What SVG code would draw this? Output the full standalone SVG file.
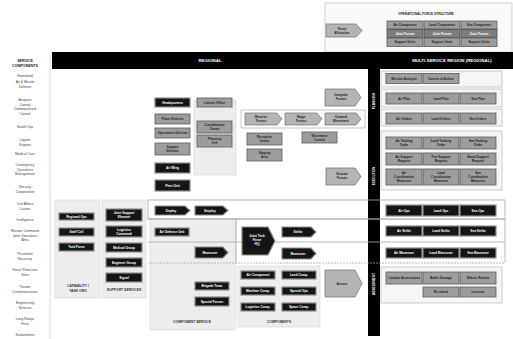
<svg xmlns="http://www.w3.org/2000/svg" width="513" height="339" viewBox="0 0 513 339">
<style>
text{font-family:"Liberation Sans",Arial,sans-serif;text-anchor:middle}
.blk{fill:#151515;stroke:#8e8e8e;stroke-width:1.2}
.gry{fill:#9d9d9d;stroke:#5a5a5a;stroke-width:0.8}
.gdk{fill:#7e7e7e;stroke:#4a4a4a;stroke-width:0.8}
.arw{fill:#b4b4b4;stroke:#7a7a7a;stroke-width:0.8}
.panel{fill:#ededed;stroke:#d6d6d6;stroke-width:0.6}
.outl{fill:#f6f6f6;stroke:#b8b8b8;stroke-width:0.7}
.band{fill:none;stroke:#a8a8a8;stroke-width:0.8}
.tw{fill:#fff;font-size:3.2px;font-weight:bold}
.td{fill:#1e1e1e;font-size:3.2px;font-weight:bold}
.tl{fill:#444;font-size:3.4px}
.tlb{fill:#222;font-size:3.6px;font-weight:bold}
.th{fill:#fff;font-size:4.4px;font-weight:bold}
.cap{fill:#333;font-size:3.4px;font-weight:bold}
</style>

<!-- background -->
<rect x="0" y="0" width="513" height="339" fill="#fff"/>

<!-- left label column -->
<g id="left-labels">
<line x1="50" y1="55" x2="50" y2="339" stroke="#d0d0d0" stroke-width="0.8"/>
<text class="tlb" x="25" y="62">SERVICE</text><text class="tlb" x="25" y="66.5">COMPONENTS</text>
<text class="tl" x="25" y="77">Homeland</text>
<text class="tl" x="25" y="83">Air &amp; Missile</text><text class="tl" x="25" y="87.5">Defense</text>
<text class="tl" x="25" y="101">Airspace</text><text class="tl" x="25" y="105.5">Control</text><text class="tl" x="25" y="110">Command and</text><text class="tl" x="25" y="114.5">Control</text>
<text class="tl" x="25" y="128">Sealift Ops</text>
<text class="tl" x="25" y="141">Logistic</text><text class="tl" x="25" y="145.5">Support</text>
<text class="tl" x="25" y="155">Medical Care</text>
<text class="tl" x="25" y="166">Contingency</text><text class="tl" x="25" y="170.5">Operations</text><text class="tl" x="25" y="175">Management</text>
<text class="tl" x="25" y="188">Security</text><text class="tl" x="25" y="192.5">Cooperation</text>
<text class="tl" x="25" y="205">Civil Affairs</text><text class="tl" x="25" y="209.5">Liaison</text>
<text class="tl" x="25" y="221">Intelligence</text>
<text class="tl" x="25" y="232">Mission Command</text><text class="tl" x="25" y="236.5">Joint Operations</text><text class="tl" x="25" y="241">Area</text>
<text class="tl" x="25" y="255">Personnel</text><text class="tl" x="25" y="259.5">Recovery</text>
<text class="tl" x="25" y="271">Force Protection</text><text class="tl" x="25" y="275.5">Sites</text>
<text class="tl" x="25" y="288">Theater</text><text class="tl" x="25" y="292.5">Communications</text>
<text class="tl" x="25" y="304">Engineering</text><text class="tl" x="25" y="308.5">Services</text>
<text class="tl" x="25" y="320">Long Range</text><text class="tl" x="25" y="324.5">Fires</text>
<text class="tl" x="25" y="336">Sustainment</text>
</g>

<!-- top-right structure box -->
<g id="top-structure">
<rect x="325" y="3" width="187" height="49" fill="#fafafa" stroke="#c8c8c8" stroke-width="0.8"/>
<text class="td" x="426" y="14.5" font-size="3.6px">OPERATIONAL FORCE STRUCTURE</text>
<polygon class="arw" points="326,24 356,24 362,30.5 356,37 326,37"/>
<text class="td" x="342" y="29.5">Force</text><text class="td" x="342" y="33.5">Allocation</text>
<rect class="gry" x="387" y="21" width="36" height="8"/><text class="td" x="405" y="26">Air Component</text>
<rect class="gry" x="424" y="21" width="36" height="8"/><text class="td" x="442" y="26">Land Component</text>
<rect class="gry" x="461" y="21" width="36" height="8"/><text class="td" x="479" y="26">Sea Component</text>
<rect class="gdk" x="387" y="29.5" width="36" height="8"/><text class="tw" x="405" y="34.5">Joint Forces</text>
<rect class="gdk" x="424" y="29.5" width="36" height="8"/><text class="tw" x="442" y="34.5">Joint Forces</text>
<rect class="gdk" x="461" y="29.5" width="36" height="8"/><text class="tw" x="479" y="34.5">Joint Forces</text>
<rect class="gry" x="387" y="38" width="36" height="8.5"/><text class="td" x="405" y="43">Support Units</text>
<rect class="gry" x="424" y="38" width="36" height="8.5"/><text class="td" x="442" y="43">Support Units</text>
<rect class="gry" x="461" y="38" width="36" height="8.5"/><text class="td" x="479" y="43">Support Units</text>
</g>

<!-- headers -->
<g id="header">
<rect x="52" y="52" width="461" height="17" fill="#000"/>
<text class="th" x="210" y="62">REGIONAL</text>
<text class="th" x="452" y="62">MULTI-SERVICE REGION (REGIONAL)</text>
</g>
<g id="divider">
<rect x="368" y="52" width="12" height="284" fill="#000"/>
<text class="tw" transform="translate(375.2,101) rotate(-90)">PLANNING</text>
<text class="tw" transform="translate(375.2,176) rotate(-90)">EXECUTION</text>
<text class="tw" transform="translate(375.2,284) rotate(-90)">ASSESSMENT</text>
</g>

<!-- background panels -->
<g id="panels">
<rect class="panel" x="55" y="200" width="45" height="98"/>
<rect class="panel" x="102" y="200" width="44" height="98"/>
<rect class="panel" x="150" y="219" width="86" height="111"/>
<rect class="panel" x="194" y="100" width="42" height="75"/>
<rect class="panel" x="238" y="266" width="82" height="61"/>
</g>

<!-- bands -->
<g id="connectors">
<rect class="band" x="148" y="200" width="357" height="19" fill="#fff"/>
<line class="band" x1="148" y1="219" x2="505" y2="219"/>
<line class="band" x1="148" y1="242" x2="505" y2="242"/>
<line class="band" x1="148" y1="263" x2="505" y2="263" stroke-dasharray="2,1"/>
<line class="band" x1="236" y1="219" x2="236" y2="263"/>
<line class="band" x1="505" y1="219" x2="505" y2="263"/>
</g>

<!-- left section -->
<g id="capability">
<rect class="blk" x="59" y="213" width="35" height="7"/><text class="tw" x="76.5" y="217.8">Regional Ops</text>
<rect class="blk" x="59" y="228" width="35" height="8"/><text class="tw" x="76.5" y="233.2">Staff Cell</text>
<rect class="blk" x="59" y="243" width="35" height="8"/><text class="tw" x="76.5" y="248.2">Task Force</text>
<text class="cap" x="78" y="287">CAPABILITY /</text><text class="cap" x="78" y="291.5">TASK ORG</text>
</g>
<g id="support-services">
<rect class="blk" x="106" y="209" width="36" height="12"/><text class="tw" x="124" y="214">Joint Support</text><text class="tw" x="124" y="218">Element</text>
<rect class="blk" x="106" y="226" width="36" height="11"/><text class="tw" x="124" y="230.5">Logistics</text><text class="tw" x="124" y="234.5">Command</text>
<rect class="blk" x="106" y="243" width="36" height="9"/><text class="tw" x="124" y="248.6">Medical Group</text>
<rect class="blk" x="106" y="258" width="36" height="9"/><text class="tw" x="124" y="263.6">Engineer Group</text>
<rect class="blk" x="106" y="273" width="36" height="9"/><text class="tw" x="124" y="278.6">Signal</text>
<text class="cap" x="124" y="291">SUPPORT SERVICES</text>
</g>

<!-- middle left -->
<g id="column-a">
<rect class="blk" x="155" y="98" width="35" height="9"/><text class="tw" x="172.5" y="103.6">Headquarters</text>
<rect class="gry" x="155" y="114" width="35" height="10"/><text class="td" x="172.5" y="120">Plans Division</text>
<rect class="gry" x="155" y="128" width="35" height="10"/><text class="td" x="172.5" y="134">Operations Division</text>
<rect class="gry" x="155" y="143" width="35" height="12"/><text class="td" x="172.5" y="148">Support</text><text class="td" x="172.5" y="152">Division</text>
<rect class="blk" x="155" y="163" width="35" height="10"/><text class="tw" x="172.5" y="169">Air Wing</text>
<rect class="blk" x="155" y="180" width="35" height="11"/><text class="tw" x="172.5" y="186.5">Fleet Unit</text>
</g>
<g id="column-b">
<rect class="gry" x="197" y="98" width="35" height="9"/><text class="td" x="214.5" y="103.6">Liaison Office</text>
<rect class="gry" x="197" y="121" width="35" height="12"/><text class="td" x="214.5" y="126">Coordination</text><text class="td" x="214.5" y="130">Center</text>
<rect class="gry" x="197" y="135" width="35" height="12"/><text class="td" x="214.5" y="140">Planning</text><text class="td" x="214.5" y="144">Cell</text>
</g>
<g id="band-arrows">
<polygon class="blk" points="155,206 185,206 190,210.5 185,215 155,215"/><text class="tw" x="171" y="211.7">Deploy</text>
<polygon class="blk" points="195,206 223,206 228,210.5 223,215 195,215"/><text class="tw" x="210" y="211.7">Employ</text>
</g>
<g id="component-service">
<rect class="blk" x="155" y="228" width="34" height="8"/><text class="tw" x="172" y="233.2">Air Defense Unit</text>
<polygon class="blk" points="195,247 223,247 228,252.5 223,258 195,258"/><text class="tw" x="210" y="253.7">Maneuver</text>
<rect class="blk" x="195" y="282" width="34" height="8"/><text class="tw" x="212" y="287.2">Brigade Team</text>
<rect class="blk" x="195" y="297" width="34" height="9"/><text class="tw" x="212" y="302.6">Special Forces</text>
<text class="cap" x="192" y="323">COMPONENT SERVICE</text>
</g>

<!-- middle right -->
<g id="mid-arrows">
<polygon class="arw" points="325,89 355,89 361,97.5 355,106 325,106"/><text class="td" x="341" y="96">Integrate</text><text class="td" x="341" y="100">Forces</text>
<rect x="241" y="110" width="124" height="18" fill="#fff" stroke="#aaa" stroke-width="0.7"/>
<polygon class="arw" points="245,113 277,113 282,119 277,125 245,125"/><text class="td" x="261" y="118">Receive</text><text class="td" x="261" y="122">Forces</text>
<polygon class="arw" points="285,113 317,113 322,119 317,125 285,125"/><text class="td" x="301" y="118">Stage</text><text class="td" x="301" y="122">Forces</text>
<polygon class="arw" points="325,113 356,113 361,119 356,125 325,125"/><text class="td" x="341" y="118">Onward</text><text class="td" x="341" y="122">Movement</text>
<rect class="gry" x="247" y="133" width="35" height="12"/><text class="td" x="264.5" y="138">Reception</text><text class="td" x="264.5" y="142">Center</text>
<rect class="gry" x="247" y="149" width="35" height="12"/><text class="td" x="264.5" y="154">Staging</text><text class="td" x="264.5" y="158">Area</text>
<rect class="gry" x="302" y="132" width="35" height="11"/><text class="td" x="319.5" y="136.6">Movement</text><text class="td" x="319.5" y="140.6">Control</text>
<polygon class="arw" points="326,168 355,168 361,176.5 355,185 326,185"/><text class="td" x="342" y="175">Sustain</text><text class="td" x="342" y="179">Forces</text>
</g>
<g id="execution">
<polygon class="blk" points="242,227 268,227 275,241 268,255 242,255"/><text class="tw" x="257" y="237">Joint Task</text><text class="tw" x="257" y="241">Force</text><text class="tw" x="257" y="245">HQ</text>
<polygon class="blk" points="282,227 311,227 316,232 311,237 282,237"/><text class="tw" x="298" y="233.2">Strike</text>
<polygon class="blk" points="282,248 311,248 316,253.5 311,259 282,259"/><text class="tw" x="298" y="254.7">Maneuver</text>
</g>
<g id="components">
<rect class="blk" x="241" y="271" width="34" height="8"/><text class="tw" x="258" y="276.2">Air Component</text>
<rect class="blk" x="282" y="271" width="34" height="8"/><text class="tw" x="299" y="276.2">Land Comp.</text>
<rect class="blk" x="241" y="287" width="34" height="8"/><text class="tw" x="258" y="292.2">Maritime Comp.</text>
<rect class="blk" x="282" y="287" width="34" height="8"/><text class="tw" x="299" y="292.2">Special Ops</text>
<rect class="blk" x="241" y="303" width="34" height="8"/><text class="tw" x="258" y="308.2">Logistics Comp.</text>
<rect class="blk" x="282" y="303" width="34" height="8"/><text class="tw" x="299" y="308.2">Space Comp.</text>
<text class="cap" x="279" y="323">COMPONENTS</text>
<polygon class="arw" points="325,270 355,270 362,283.5 355,297 325,297"/><text class="td" x="342" y="284.6">Assess</text>
</g>

<!-- right section -->
<g id="right-planning">
<rect class="outl" x="381" y="71" width="121" height="16"/>
<rect class="gry" x="386" y="73.5" width="36" height="10"/><text class="td" x="404" y="79.6">Mission Analysis</text>
<rect class="gry" x="423" y="73.5" width="36" height="10"/><text class="td" x="441" y="79.6">Course of Action</text>
<rect class="outl" x="381" y="89" width="121" height="18"/>
<rect class="gry" x="386" y="93" width="36" height="11"/><text class="td" x="404" y="99.6">Air Plan</text>
<rect class="gry" x="423" y="93" width="36" height="11"/><text class="td" x="441" y="99.6">Land Plan</text>
<rect class="gry" x="460" y="93" width="36" height="11"/><text class="td" x="478" y="99.6">Sea Plan</text>
<rect class="outl" x="381" y="109" width="121" height="17"/>
<rect class="gry" x="386" y="113" width="36" height="11"/><text class="td" x="404" y="119.6">Air Orders</text>
<rect class="gry" x="423" y="113" width="36" height="11"/><text class="td" x="441" y="119.6">Land Orders</text>
<rect class="gry" x="460" y="113" width="36" height="11"/><text class="td" x="478" y="119.6">Sea Orders</text>
</g>
<g id="right-execution">
<rect class="outl" x="381" y="131" width="121" height="59"/>
<rect class="gry" x="386" y="137" width="36" height="12"/><text class="td" x="404" y="142">Air Tasking</text><text class="td" x="404" y="146">Order</text>
<rect class="gry" x="423" y="137" width="36" height="12"/><text class="td" x="441" y="142">Land Tasking</text><text class="td" x="441" y="146">Order</text>
<rect class="gry" x="460" y="137" width="36" height="12"/><text class="td" x="478" y="142">Sea Tasking</text><text class="td" x="478" y="146">Order</text>
<rect class="gry" x="386" y="153" width="36" height="12"/><text class="td" x="404" y="158">Air Support</text><text class="td" x="404" y="162">Request</text>
<rect class="gry" x="423" y="153" width="36" height="12"/><text class="td" x="441" y="158">Fire Support</text><text class="td" x="441" y="162">Request</text>
<rect class="gry" x="460" y="153" width="36" height="12"/><text class="td" x="478" y="158">Naval Support</text><text class="td" x="478" y="162">Request</text>
<rect class="gry" x="386" y="169" width="36" height="16"/><text class="td" x="404" y="174">Air</text><text class="td" x="404" y="178">Coordination</text><text class="td" x="404" y="182">Measures</text>
<rect class="gry" x="423" y="169" width="36" height="16"/><text class="td" x="441" y="174">Land</text><text class="td" x="441" y="178">Coordination</text><text class="td" x="441" y="182">Measures</text>
<rect class="gry" x="460" y="169" width="36" height="16"/><text class="td" x="478" y="174">Sea</text><text class="td" x="478" y="178">Coordination</text><text class="td" x="478" y="182">Measures</text>
</g>
<g id="right-bands">
<rect class="blk" x="386" y="205" width="36" height="11"/><text class="tw" x="404" y="211.7">Air Ops</text>
<rect class="blk" x="423" y="205" width="36" height="11"/><text class="tw" x="441" y="211.7">Land Ops</text>
<rect class="blk" x="460" y="205" width="36" height="11"/><text class="tw" x="478" y="211.7">Sea Ops</text>
<rect class="blk" x="386" y="226" width="36" height="10"/><text class="tw" x="404" y="232.2">Air Strike</text>
<rect class="blk" x="423" y="226" width="36" height="10"/><text class="tw" x="441" y="232.2">Land Strike</text>
<rect class="blk" x="460" y="226" width="36" height="10"/><text class="tw" x="478" y="232.2">Sea Strike</text>
<rect class="blk" x="386" y="248" width="36" height="10"/><text class="tw" x="404" y="254.2">Air Maneuver</text>
<rect class="blk" x="423" y="248" width="36" height="10"/><text class="tw" x="441" y="254.2">Land Maneuver</text>
<rect class="blk" x="460" y="248" width="36" height="10"/><text class="tw" x="478" y="254.2">Sea Maneuver</text>
</g>
<g id="right-assessment">
<rect class="outl" x="381" y="267" width="121" height="36"/>
<rect class="gry" x="386" y="272" width="36" height="12"/><text class="td" x="404" y="279">Combat Assessment</text>
<rect class="gry" x="423" y="272" width="36" height="12"/><text class="td" x="441" y="279">Battle Damage</text>
<rect class="gry" x="460" y="272" width="36" height="12"/><text class="td" x="478" y="279">Effects Review</text>
<rect class="gry" x="423" y="287" width="36" height="10"/><text class="td" x="441" y="293">Re-attack</text>
<rect class="gry" x="460" y="287" width="36" height="10"/><text class="td" x="478" y="293">Lessons</text>
</g>
</svg>
